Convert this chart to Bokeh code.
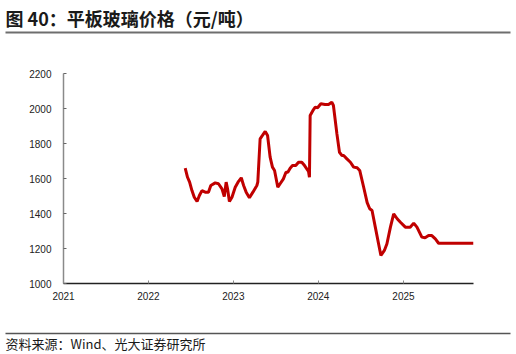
from datetime import datetime
from bokeh.plotting import figure
from bokeh.layouts import column, row
from bokeh.models import Range1d, FixedTicker, DatetimeTickFormatter, ColumnDataSource
from bokeh.core.properties import value
from bokeh.embed import file_html
from bokeh.resources import INLINE

title_text = "图 40：平板玻璃价格（元/吨）"
source_text = "资料来源：Wind、光大证券研究所"

dates = [
    "2022-06-08", "2022-06-18", "2022-06-27", "2022-07-07", "2022-07-17", "2022-07-29",
    "2022-08-08", "2022-08-19", "2022-09-02", "2022-09-16", "2022-09-26", "2022-10-15",
    "2022-10-29", "2022-11-13", "2022-11-23", "2022-12-01", "2022-12-07", "2022-12-15",
    "2022-12-26", "2023-01-09", "2023-01-21", "2023-02-04", "2023-02-14", "2023-02-25",
    "2023-03-11", "2023-03-26", "2023-04-12", "2023-04-16", "2023-04-26", "2023-05-06",
    "2023-05-18", "2023-05-28", "2023-06-08", "2023-06-18", "2023-06-27", "2023-07-11",
    "2023-07-21", "2023-08-04", "2023-08-15", "2023-08-23", "2023-09-02", "2023-09-12",
    "2023-09-26", "2023-10-08", "2023-10-22", "2023-11-03", "2023-11-20", "2023-11-24",
    "2023-11-27", "2023-12-09", "2023-12-19", "2023-12-29", "2024-01-12", "2024-01-30",
    "2024-02-14", "2024-02-28", "2024-03-06", "2024-03-21", "2024-04-01", "2024-04-12",
    "2024-04-19", "2024-05-03", "2024-05-18", "2024-06-01", "2024-06-16", "2024-06-27",
    "2024-07-14", "2024-07-29", "2024-08-09", "2024-08-19", "2024-09-02", "2024-09-16",
    "2024-09-26", "2024-10-11", "2024-10-22", "2024-11-06", "2024-11-20", "2024-12-05",
    "2024-12-19", "2025-01-09", "2025-01-30", "2025-02-14", "2025-02-28", "2025-03-21",
    "2025-04-04", "2025-04-19", "2025-05-03", "2025-05-18", "2025-06-01", "2025-07-01",
    "2025-08-01", "2025-09-01", "2025-10-01", "2025-10-29",
]
prices = [
    1659, 1607, 1579, 1531, 1493, 1469,
    1503, 1531, 1522, 1522, 1560, 1575,
    1570, 1541, 1497, 1579, 1541, 1469,
    1493, 1550, 1579, 1604, 1560, 1522,
    1490, 1522, 1560, 1579, 1827, 1846,
    1869, 1846, 1722, 1665, 1646, 1550,
    1570, 1598, 1636, 1636, 1659, 1674,
    1674, 1693, 1693, 1674, 1640, 1607,
    1960, 1989, 2008, 2004, 2027, 2023,
    2023, 2036, 2017, 1855, 1750, 1731,
    1731, 1712, 1693, 1665, 1661, 1646,
    1550, 1462, 1427, 1417, 1322, 1227,
    1160, 1189, 1227, 1322, 1398, 1370,
    1350, 1322, 1322, 1345, 1322, 1265,
    1261, 1274, 1274, 1255, 1230, 1230,
    1230, 1230, 1230, 1230,
]
year_ticks = [2021, 2022, 2023, 2024, 2025]
y_ticks = [1000, 1200, 1400, 1600, 1800, 2000, 2200]

W = 516


def blank(height):
    f = figure(width=W, height=height, output_backend="svg", toolbar_location=None,
               x_range=Range1d(0, W), y_range=Range1d(height, 0),
               x_axis_location=None, y_axis_location=None,
               min_border=0, min_border_left=0, min_border_right=0,
               min_border_top=0, min_border_bottom=0)
    f.outline_line_color = None
    f.grid.visible = False
    f.background_fill_color = "white"
    f.border_fill_color = "white"
    return f


# --- header: title and rule
head = blank(40)
head.text(x=[5], y=[17], text=[title_text], text_font=value("Noto Sans CJK SC"),
          text_font_size="18px", text_font_style="bold", text_color="#1a1a1a",
          text_baseline="middle", text_align="left")
head.segment(x0=[5], y0=[32], x1=[510], y1=[32], line_color="#6e6e6e", line_width=2)

# --- main chart
x = [datetime.strptime(d, "%Y-%m-%d") for d in dates]
src = ColumnDataSource(dict(x=x, y=prices))

p = figure(width=W, height=284, output_backend="svg", toolbar_location=None,
           x_axis_type="datetime",
           x_range=Range1d(datetime(2021, 1, 1), x[-1]),
           y_range=Range1d(1000, 2200),
           min_border_left=63, min_border_right=43,
           min_border_top=33, min_border_bottom=41)
p.outline_line_color = None
p.grid.visible = False
p.background_fill_color = "white"
p.border_fill_color = "white"

p.line("x", "y", source=src, line_color="#C00000", line_width=3)

tick_ms = [datetime(yr, 1, 1).timestamp() * 1000 for yr in year_ticks]
p.xaxis.ticker = FixedTicker(ticks=tick_ms)
p.xaxis.formatter = DatetimeTickFormatter(years="%Y", months="%Y", days="%Y",
                                          hours="%Y", minutes="%Y", seconds="%Y",
                                          milliseconds="%Y", microseconds="%Y")
p.yaxis.ticker = FixedTicker(ticks=y_ticks)

for ax in (p.xaxis[0], p.yaxis[0]):
    ax.major_label_text_font = "Liberation Sans"
    ax.major_label_text_font_size = "10px"
    ax.major_label_text_color = "#222222"
    ax.minor_tick_line_color = None
    ax.major_tick_in = 3
    ax.major_tick_out = 0
p.xaxis.axis_line_color = "#222222"
p.xaxis.axis_line_width = 1.5
p.xaxis.major_tick_line_color = "#888888"
p.xaxis.major_label_standoff = 8
p.yaxis.axis_line_color = "#8a8a8a"
p.yaxis.axis_line_width = 1.5
p.yaxis.major_tick_line_color = "#666666"
p.yaxis.major_label_standoff = 12

# --- footer: rule and source
foot = blank(30)
foot.segment(x0=[5], y0=[9], x1=[510], y1=[9], line_color="#555555", line_width=1.5)
foot.text(x=[5], y=[19], text=[source_text], text_font=value("Noto Sans CJK SC"),
          text_font_size="13px", text_color="#1a1a1a",
          text_baseline="middle", text_align="left")

layout = column(row(head, spacing=0), p, row(foot, spacing=0), spacing=0)
open("out.html", "w").write(file_html(layout, INLINE))
